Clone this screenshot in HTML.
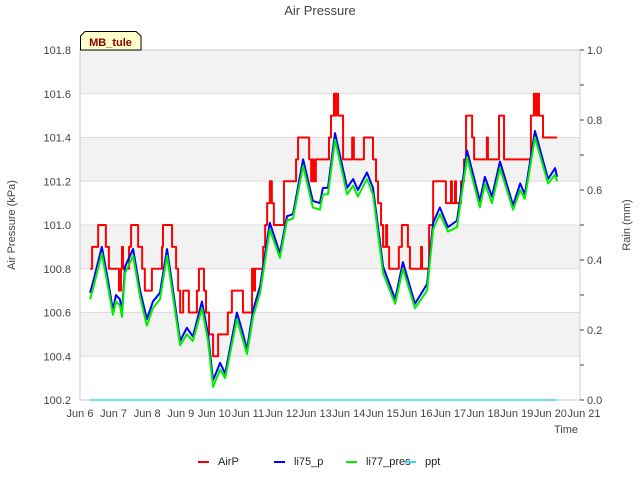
<!DOCTYPE html>
<html><head><meta charset="utf-8"><style>
body{margin:0;background:#fff;}
svg{display:block;font-family:"Liberation Sans","DejaVu Sans",sans-serif;}
</style></head><body>
<svg id="chart" width="640" height="480" viewBox="0 0 640 480">
<text x="320" y="15" text-anchor="middle" font-size="13" fill="#444">Air Pressure</text>
<g id="bands"></g>
<g id="grid"></g>
<rect x="80" y="50" width="500" height="350" fill="none" stroke="#ccc" stroke-width="1"/>
<g id="yaxis"></g>
<g id="y2axis"></g>
<g id="xaxis"></g>
<g id="series"></g>
<text x="15" y="225" transform="rotate(-90 15 225)" text-anchor="middle" font-size="11" fill="#444">Air Pressure (kPa)</text>
<text x="630" y="225" transform="rotate(-90 630 225)" text-anchor="middle" font-size="11" fill="#444">Rain (mm)</text>
<text x="578" y="433" text-anchor="end" font-size="11" fill="#444">Time</text>
<g>
<path d="M80.5,50 L80.5,36 L85,31.5 L136,31.5 L141,36 L141,50 Z" fill="#ffffcc" stroke="#000" stroke-width="1"/>
<text x="110.5" y="46" text-anchor="middle" font-size="11" font-weight="bold" fill="#8b0000">MB_tule</text>
</g>
<g id="legend"></g>
</svg>
<script>
const yTicks=[100.2,100.4,100.6,100.8,101.0,101.2,101.4,101.6,101.8];
const y2Ticks=[0.0,0.2,0.4,0.6,0.8,1.0];
const xTickLabels=["Jun 6","Jun 7","Jun 8","Jun 9","Jun 10","Jun 11","Jun 12","Jun 13","Jun 14","Jun 15","Jun 16","Jun 17","Jun 18","Jun 19","Jun 20","Jun 21"];
const li75T=[0.30,0.39,0.65,0.83,0.98,1.07,1.19,1.25,1.34,1.58,1.79,1.99,2.17,2.38,2.59,2.77,2.98,3.18,3.36,3.63,3.81,3.96,4.17,4.32,4.67,4.82,4.97,5.15,5.36,5.65,5.95,6.16,6.34,6.64,6.93,7.14,7.23,7.38,7.59,7.95,8.13,8.27,8.54,8.72,9.02,9.38,9.61,9.97,10.33,10.51,10.71,10.95,11.22,11.52,11.90,12.05,12.26,12.50,12.89,13.10,13.24,13.54,13.93,14.14,14.20];
const li75V=[100.69,100.74,100.90,100.75,100.61,100.68,100.66,100.60,100.81,100.89,100.70,100.57,100.65,100.69,100.89,100.70,100.47,100.53,100.49,100.65,100.50,100.29,100.37,100.32,100.60,100.52,100.43,100.61,100.72,101.01,100.87,101.04,101.05,101.30,101.11,101.10,101.17,101.17,101.42,101.17,101.21,101.16,101.24,101.17,100.81,100.66,100.83,100.64,100.73,101.01,101.08,100.99,101.02,101.34,101.11,101.22,101.13,101.29,101.09,101.19,101.14,101.43,101.21,101.26,101.22];
const li77V=[100.66,100.71,100.87,100.72,100.59,100.65,100.63,100.58,100.78,100.86,100.67,100.54,100.62,100.66,100.86,100.67,100.45,100.50,100.47,100.62,100.47,100.26,100.34,100.30,100.57,100.49,100.41,100.58,100.69,100.98,100.85,101.02,101.03,101.27,101.08,101.07,101.14,101.14,101.39,101.14,101.18,101.13,101.21,101.14,100.78,100.64,100.80,100.62,100.70,100.98,101.05,100.97,100.99,101.31,101.08,101.19,101.10,101.26,101.07,101.16,101.12,101.40,101.19,101.23,101.20];
const airT=[0.30,0.36,0.54,0.77,0.86,1.16,1.22,1.25,1.28,1.46,1.52,1.73,1.85,1.93,2.14,2.44,2.47,2.74,2.86,2.92,2.98,3.07,3.24,3.48,3.54,3.69,3.75,3.84,3.96,4.11,4.40,4.52,4.85,5.12,5.18,5.21,5.45,5.51,5.57,5.65,5.71,5.77,6.07,6.43,6.49,6.82,6.88,6.93,6.96,7.02,7.41,7.47,7.56,7.59,7.62,7.68,7.83,8.10,8.15,8.45,8.72,8.81,8.87,8.96,9.02,9.11,9.14,9.20,9.49,9.58,9.76,9.82,10.15,10.18,10.39,10.51,10.89,11.04,11.07,11.16,11.19,11.34,11.43,11.49,11.67,11.73,12.11,12.14,12.47,12.62,13.42,13.51,13.57,13.60,13.66,13.78,14.20];
const airV=[100.8,100.9,101.0,100.9,100.8,100.7,100.8,100.9,100.8,100.9,101.0,100.9,100.8,100.7,100.8,100.9,101.0,100.9,100.8,100.7,100.6,100.7,100.6,100.7,100.8,100.7,100.6,100.5,100.4,100.5,100.6,100.7,100.6,100.8,100.7,100.8,100.9,101.0,101.1,101.2,101.1,101.0,101.2,101.3,101.4,101.3,101.2,101.3,101.2,101.3,101.4,101.5,101.6,101.5,101.6,101.5,101.3,101.4,101.3,101.4,101.3,101.2,101.1,101.0,100.9,101.0,100.9,100.8,100.9,101.0,100.9,100.8,100.9,100.8,101.0,101.2,101.1,101.2,101.1,101.2,101.1,101.2,101.3,101.5,101.4,101.3,101.4,101.3,101.5,101.3,101.5,101.6,101.5,101.6,101.5,101.4,101.4];
const pptT=[0.30,14.20];
const pptV=[0,0];

const NS="http://www.w3.org/2000/svg";
const X=t=>80+t*33.6;
const Y=v=>400-(v-100.2)/1.6*350;
const Y2=v=>400-v*350;
function mk(tag,attrs,parent){const e=document.createElementNS(NS,tag);for(const k in attrs)e.setAttribute(k,attrs[k]);parent.appendChild(e);return e;}
const bands=document.getElementById('bands'),grid=document.getElementById('grid');
for(let i=0;i<yTicks.length-1;i++){
  if((yTicks.length-2-i)%2===0){
    const r=mk('rect',{x:80,y:Y(yTicks[i+1]),width:500,height:Y(yTicks[i])-Y(yTicks[i+1]),fill:'#f2f2f2'},bands);
    
    
  }
}
const ya=document.getElementById('yaxis');
yTicks.forEach(v=>{
  const l=mk('line',{x1:80,x2:580,y1:Y(v),y2:Y(v),stroke:'#ddd','stroke-width':1},grid);
  
  
  const t=mk('text',{x:71,y:Y(v)+4,'text-anchor':'end','font-size':11,fill:'#444'},ya);
  t.textContent=v.toFixed(1);
  
  
});
const y2=document.getElementById('y2axis');
y2Ticks.forEach(v=>{
  const l=mk('line',{x1:580,x2:584,y1:Y2(v),y2:Y2(v),stroke:'#444'},y2);
  
  
  const t=mk('text',{x:587,y:Y2(v)+4,'font-size':11,fill:'#444'},y2);
  t.textContent=v.toFixed(1);
  
  
  if(v<1){const m=mk('line',{x1:580,x2:584,y1:Y2(v+0.1),y2:Y2(v+0.1),stroke:'#444'},y2);
  
  }
});
const xa=document.getElementById('xaxis');
xTickLabels.forEach((s,i)=>{
  const t=mk('text',{x:X(i),y:417,'text-anchor':'middle','font-size':11,fill:'#444'},xa);
  t.textContent=s;
  
  
});
const S=document.getElementById('series');
function line(ts,vs,col,name,step,ymap,w){
  let d='';
  for(let i=0;i<ts.length;i++){
    if(i===0)d='M'+X(ts[0])+','+ymap(vs[0]);
    else if(step)d+=' L'+X(ts[i])+','+ymap(vs[i-1])+' L'+X(ts[i])+','+ymap(vs[i]);
    else d+=' L'+X(ts[i])+','+ymap(vs[i]);
  }
  const p=mk('path',{d:d,fill:'none',stroke:col,'stroke-width':w,'stroke-linejoin':'round'},S);
  
  
}
line(airT,airV,'#ff0000','airp-line',true,Y,2);
line(li75T,li75V,'#0000ff','li75-p-line',false,Y,2);
line(li75T,li77V,'#00ee00','li77-pres-line',false,Y,2);
line(pptT,pptV,'#33ddee','ppt-line',false,Y2,1.5);
const lg=document.getElementById('legend');
[['AirP','#ff0000',198],['li75_p','#0000ff',274],['li77_pres','#00ee00',346],['ppt','#33ddee',405]].forEach(e=>{
  const g=mk('g',{},lg);
  
  
  mk('line',{x1:e[2],x2:e[2]+11,y1:462,y2:462,stroke:e[1],'stroke-width':2},g);
  const t=mk('text',{x:e[2]+20,y:465,'font-size':11,fill:'#222'},g);
  t.textContent=e[0];
});
</script>
</body></html>
